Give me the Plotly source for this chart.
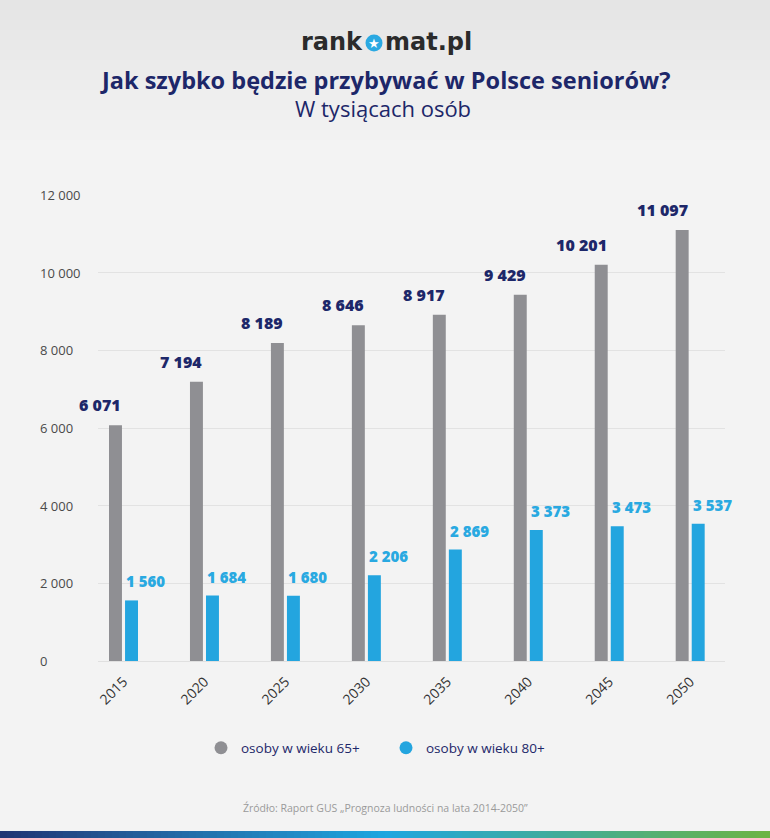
import plotly.graph_objects as go

# ---- data ----
years = ["2015", "2020", "2025", "2030", "2035", "2040", "2045", "2050"]
seniors_65 = [6071, 7194, 8189, 8646, 8917, 9429, 10201, 11097]
seniors_80 = [1560, 1684, 1680, 2206, 2869, 3373, 3473, 3537]
y_ticks = [0, 2000, 4000, 6000, 8000, 10000, 12000]
series_names = ["osoby w wieku 65+", "osoby w wieku 80+"]

# ---- styles ----
W, H = 770, 838
ML, MR, MT, MB = 98, 45, 195, 177
PW, PH = W - ML - MR, H - MT - MB
GRAY = "#8f8f93"
BLUE = "#23a5df"
NAVY = "#1d2769"
FONT = "Open Sans"


def px(x):
    return (x - ML) / PW


def py(y):
    return (H - MB - y) / PH


def fmt(v):
    return f"{v:,}".replace(",", " ")


idx = list(range(len(years)))

fig = go.Figure()
fig.add_trace(go.Bar(x=idx, y=seniors_65, width=0.16, offset=-0.179,
                     marker=dict(color=GRAY, line=dict(width=0)),
                     showlegend=False, hoverinfo="skip"))
fig.add_trace(go.Bar(x=idx, y=seniors_80, width=0.16, offset=0.019,
                     marker=dict(color=BLUE, line=dict(width=0)),
                     showlegend=False, hoverinfo="skip"))
# legend entries with circle markers
for name, col in zip(series_names, [GRAY, BLUE]):
    fig.add_trace(go.Scatter(x=[None], y=[None], mode="markers", name=name,
                             marker=dict(symbol="circle", size=13, color=col)))

ann = []
for i, v in enumerate(seniors_65):
    ann.append(dict(x=i - 0.019, y=v, xref="x", yref="y", text=fmt(v),
                    showarrow=False, xanchor="right", yanchor="bottom",
                    yshift=7, xshift=1,
                    font=dict(family=FONT, size=16, color=NAVY, weight=800)))
for i, v in enumerate(seniors_80):
    ann.append(dict(x=i + 0.019, y=v, xref="x", yref="y", text=fmt(v),
                    showarrow=False, xanchor="left", yanchor="bottom",
                    yshift=7, xshift=-1,
                    font=dict(family=FONT, size=15, color="#29a9e1", weight=800)))
# y tick labels (left aligned as in the original)
for t in y_ticks:
    ann.append(dict(x=px(38), y=t, xref="paper", yref="y", text=fmt(t),
                    showarrow=False, xanchor="left", yanchor="middle",
                    font=dict(family=FONT, size=13, color="#4a4a4a")))

# titles
ann.append(dict(x=px(385), y=py(80), xref="paper", yref="paper",
                text="Jak szybko będzie przybywać w Polsce seniorów?",
                showarrow=False, xanchor="center", yanchor="middle",
                font=dict(family=FONT, size=23.5, color=NAVY, weight=700)))
ann.append(dict(x=px(383), y=py(108), xref="paper", yref="paper",
                text="W tysiącach osób", showarrow=False,
                xanchor="center", yanchor="middle",
                font=dict(family=FONT, size=22, color=NAVY)))
# logo
ann.append(dict(x=px(365), y=py(42), xref="paper", yref="paper", text="rank",
                showarrow=False, xanchor="right", yanchor="middle",
                font=dict(family="DejaVu Sans", size=24, color="#2b2b2b", weight=700)))
ann.append(dict(x=px(383), y=py(42), xref="paper", yref="paper", text="mat.pl",
                showarrow=False, xanchor="left", yanchor="middle",
                font=dict(family="DejaVu Sans", size=24, color="#2b2b2b", weight=700)))
ann.append(dict(x=px(374), y=py(43), xref="paper", yref="paper", text="★",
                showarrow=False, xanchor="center", yanchor="middle",
                font=dict(family="DejaVu Sans", size=13, color="white")))
# source
ann.append(dict(x=px(385), y=py(808), xref="paper", yref="paper",
                text="Źródło: Raport GUS „Prognoza ludności na lata 2014-2050”",
                showarrow=False, xanchor="center", yanchor="middle",
                font=dict(family=FONT, size=10.5, color="#9a9a9a")))

shapes = []
# header gradient
top_c, bot_c = (229, 229, 229), (243, 243, 243)
nb = 30
for k in range(nb):
    f = k / (nb - 1)
    c = tuple(round(top_c[j] + (bot_c[j] - top_c[j]) * f) for j in range(3))
    y0, y1 = k * 5, k * 5 + 5
    shapes.append(dict(type="rect", xref="paper", yref="paper",
                       x0=px(0), x1=px(W), y0=py(y1), y1=py(y0),
                       fillcolor=f"rgb{c}", line=dict(width=0), layer="below"))
# logo circle
shapes.append(dict(type="circle", xref="paper", yref="paper",
                   x0=px(365.5), x1=px(382.5), y0=py(51.5), y1=py(34.5),
                   fillcolor="#2aa9e2", line=dict(width=0), layer="above"))
# bottom gradient bar
stops = [(0.0, (34, 53, 115)), (0.5, (31, 166, 224)), (1.0, (108, 180, 67))]
n = 110
for k in range(n):
    f = (k + 0.5) / n
    for (a, ca), (b, cb) in zip(stops[:-1], stops[1:]):
        if a <= f <= b:
            t = (f - a) / (b - a)
            c = tuple(round(ca[j] + (cb[j] - ca[j]) * t) for j in range(3))
    x0 = W * k / n
    x1 = W * (k + 1) / n + 0.5
    shapes.append(dict(type="rect", xref="paper", yref="paper",
                       x0=px(x0), x1=px(x1), y0=py(838), y1=py(831),
                       fillcolor=f"rgb{c}", line=dict(width=0), layer="above"))

fig.update_layout(
    width=W, height=H,
    margin=dict(l=ML, r=MR, t=MT, b=MB, autoexpand=False),
    paper_bgcolor="#f3f3f3", plot_bgcolor="rgba(0,0,0,0)",
    barmode="overlay",
    font=dict(family=FONT, color="#333"),
    xaxis=dict(range=[-0.315, 7.43], tickmode="array", tickvals=idx,
               ticktext=years, tickangle=-45, showgrid=False,
               zeroline=False, showline=False, ticks="outside", ticklen=6,
               tickcolor="rgba(0,0,0,0)",
               tickfont=dict(family=FONT, size=14, color="#333")),
    yaxis=dict(range=[0, 12000], tickvals=y_ticks, showticklabels=False,
               showgrid=True, gridcolor="#e2e2e2", gridwidth=1,
               zeroline=True, zerolinecolor="#e0e0e0", zerolinewidth=1),
    legend=dict(orientation="h", x=px(201), y=py(748), xanchor="left",
                yanchor="middle", bgcolor="rgba(0,0,0,0)",
                font=dict(family=FONT, size=13.5, color=NAVY),
                entrywidth=140, entrywidthmode="pixels"),
    annotations=ann, shapes=shapes,
)

fig.write_html("out.html", config={"displayModeBar": False},
               post_script="document.body.style.margin='0px';"
                           "document.body.style.overflow='hidden';")
